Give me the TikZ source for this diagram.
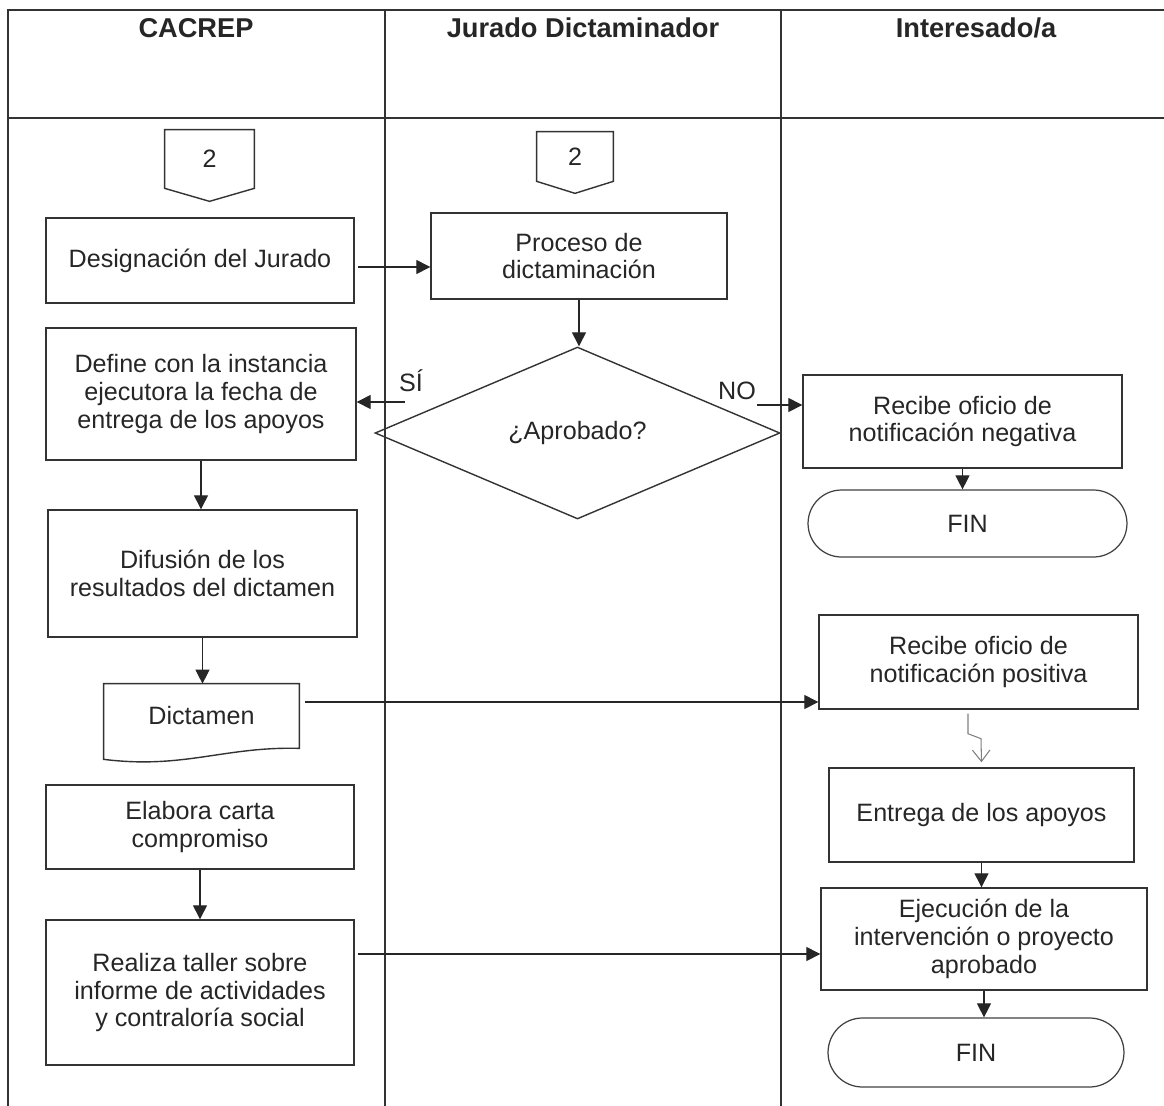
\documentclass[tikz,border=0pt]{standalone}
\usepackage{fontspec}
\setmainfont{Liberation Sans}
\usetikzlibrary{arrows.meta}
\usetikzlibrary{shapes.geometric}
\usetikzlibrary{shapes.misc}
\tikzset{
    tnode/.style = {align=center, inner sep=0pt, text centered, text=black!85, font=\fontsize{14.3}{15.9}\selectfont},
    proc_box/.style = {tnode, rectangle, draw=black!80, line width=0.8pt},
    term_node/.style = {tnode, rounded rectangle, draw=black!75, line width=0.7pt},
    dec_node/.style = {tnode, diamond, draw=black!80, line width=0.8pt},
    conn_node/.style = {tnode, rectangle},
    shape_line/.style = {draw=black!80, line width=0.8pt},
    lane_title/.style = {tnode, font=\fontsize{15.5}{18}\selectfont\bfseries},
    lane_line/.style = {draw=black!80, line width=1pt},
    flow/.style = {->, draw=black!85, line width=0.7pt},
    flash/.style = {-{Straight Barb[length=6.5pt,width=10pt]}, draw=black!50, line width=0.6pt}
}

\begin{document}
\begin{tikzpicture}
            [x=0.02cm, y=-0.02cm,
            >={Triangle[length=8pt,width=8pt]}]

            \useasboundingbox (0,0) rectangle (1164,1106);

            % swimlanes
            \draw[lane_line] (8,1106) -- (8,10) -- (1164,10);
            \draw[lane_line] (8,118) -- (1164,118);
            \draw[lane_line] (385,10) -- (385,1106);
            \draw[lane_line] (781,10) -- (781,1106);

            \node [lane_title] (t_cacrep) at (196,28) {CACREP};
            \node [lane_title] (t_jurado) at (583,28) {Jurado Dictaminador};
            \node [lane_title] (t_inter) at (976,28) {Interesado/a};

            % CACREP
            \node [conn_node, minimum width=1.78cm, minimum height=1.16cm] (conn_a) at (209.5,159) {2};
            \node [proc_box, minimum width=6.16cm, minimum height=1.7cm] (desig) at (200,260.5) {Designación del Jurado};
            \node [proc_box, minimum width=6.2cm, minimum height=2.64cm] (define) at (201,394) {Define con la instancia\\ejecutora la fecha de\\entrega de los apoyos};
            \node [proc_box, minimum width=6.18cm, minimum height=2.54cm] (difusion) at (202.5,573.5) {Difusión de los\\resultados del dictamen};
            \node [tnode, minimum width=3.9cm, minimum height=1.28cm] (dictamen) at (201.5,716) {Dictamen};
            \node [proc_box, minimum width=6.16cm, minimum height=1.68cm] (elabora) at (200,827) {Elabora carta\\compromiso};
            \node [proc_box, minimum width=6.16cm, minimum height=2.9cm] (taller) at (200,992.5) {Realiza taller sobre\\informe de actividades\\y contraloría social};

            % Jurado
            \node [conn_node, minimum width=1.52cm, minimum height=0.98cm] (conn_b) at (575,156.5) {2};
            \node [proc_box, minimum width=5.92cm, minimum height=1.72cm] (proceso) at (579,256) {Proceso de\\dictaminación};
            \node [dec_node, minimum width=8.1cm, minimum height=3.44cm] (aprob) at (577.5,433) {¿Aprobado?};
            \node [tnode] (lbl_si) at (411,381) {SÍ};
            \node [tnode] (lbl_no) at (737,391) {NO};

            % Interesado
            \node [proc_box, minimum width=6.38cm, minimum height=1.86cm] (negativa) at (962.5,421.5) {Recibe oficio de\\notificación negativa};
            \node [term_node, minimum width=6.38cm, minimum height=1.34cm] (fin_a) at (967.5,523.5) {FIN};
            \node [proc_box, minimum width=6.38cm, minimum height=1.88cm] (positiva) at (978.5,662) {Recibe oficio de\\notificación positiva};
            \node [proc_box, minimum width=6.1cm, minimum height=1.88cm] (entrega) at (981.5,815) {Entrega de los apoyos};
            \node [proc_box, minimum width=6.52cm, minimum height=2.04cm] (ejecucion) at (984,939) {Ejecución de la\\intervención o proyecto\\aprobado};
            \node [term_node, minimum width=5.92cm, minimum height=1.38cm] (fin_b) at (976,1052.5) {FIN};

            % off-page connectors and document shape
            \draw[shape_line] (conn_a.south east) -- (conn_a.north east) -- (conn_a.north west) -- (conn_a.south west) -- ([yshift=-0.26cm]conn_a.south) -- cycle;
            \draw[shape_line] (conn_b.south east) -- (conn_b.north east) -- (conn_b.north west) -- (conn_b.south west) -- ([yshift=-0.24cm]conn_b.south) -- cycle;
            \draw[shape_line] (dictamen.north west) -- (dictamen.north east) -- (dictamen.south east)
                .. controls +(-75,-2) and +(80,10) .. ([yshift=-0.22cm]dictamen.south west) -- cycle;

            \coordinate (desig_out) at (358,267);
            \coordinate (si_out) at (405,402);
            \coordinate (no_out) at (757,405);
            \coordinate (dict_out) at (305,702);
            \coordinate (taller_out) at (358,954);

            \draw[flow] (desig_out) -- (desig_out -| proceso.west);
            \draw[flow] (proceso.south) -- (proceso.south |- aprob.north);
            \draw[flow] (si_out) -- (si_out -| define.east);
            \draw[flow] (no_out) -- (no_out -| negativa.west);
            \draw[flow] (define.south) -- (define.south |- difusion.north);
            \draw[flow] (difusion.south) -- (difusion.south |- dictamen.north);
            \draw[flow] (dict_out) -- (dict_out -| positiva.west);
            \draw[flow] (elabora.south) -- (elabora.south |- taller.north);
            \draw[flow] (taller_out) -- (taller_out -| ejecucion.west);
            \draw[flow] (negativa.south) -- (negativa.south |- fin_a.north);
            \draw[flash] ([xshift=-0.21cm, yshift=-0.08cm]positiva.south) -- ++(0,20) -- ++(13,5) -- ([yshift=0.1cm]entrega.north);
            \draw[flow] (entrega.south) -- (entrega.south |- ejecucion.north);
            \draw[flow] (ejecucion.south) -- (ejecucion.south |- fin_b.north);
\end{tikzpicture}
\end{document}
